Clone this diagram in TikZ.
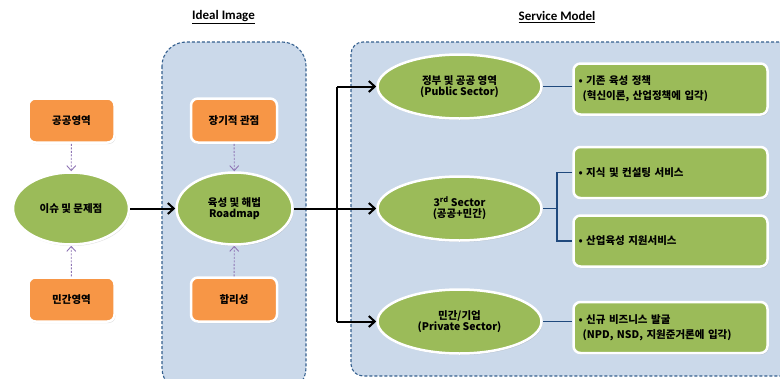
\documentclass[tikz,border=0pt]{standalone}
\usepackage{fontspec}
\setmainfont{Noto Sans CJK KR}
\newfontfamily\titlefont{Carlito}
\usetikzlibrary{arrows.meta,shadows,shapes.geometric}
\definecolor{orangefill}{HTML}{F79646}
\definecolor{greenfill}{HTML}{9BBB59}
\definecolor{panelfill}{HTML}{CBD9EA}
\definecolor{paneledge}{HTML}{35608F}
\definecolor{navyline}{HTML}{1F497D}
\definecolor{purpleline}{HTML}{8E74B4}
\begin{document}
\begin{tikzpicture}[x=1pt,y=-1pt,
  panel/.style={draw=paneledge,fill=panelfill,line width=1.1pt,dash pattern=on 3pt off 2pt,rounded corners=24pt},
  obox/.style={rectangle,rounded corners=7pt,fill=orangefill,draw=white,line width=2.5pt,
     minimum width=86pt,minimum height=44pt,font=\bfseries\fontsize{10.5}{12}\selectfont,
     drop shadow={opacity=0.25,shadow xshift=1pt,shadow yshift=-1.5pt}},
  gell/.style={ellipse,fill=greenfill,draw=white,line width=2.5pt,inner sep=0pt,
     minimum width=116pt,minimum height=72pt,align=center,font=\bfseries\fontsize{10.5}{13}\selectfont,
     drop shadow={opacity=0.25,shadow xshift=1pt,shadow yshift=-1.5pt}},
  rell/.style={gell,minimum width=164pt,minimum height=64pt},
  gbox/.style={rectangle,rounded corners=7pt,fill=greenfill,draw=white,line width=2.5pt,
     minimum width=194pt,minimum height=51pt,text width=184pt,inner xsep=5pt,align=left,
     font=\bfseries\fontsize{10.5}{15}\selectfont,
     drop shadow={opacity=0.25,shadow xshift=1pt,shadow yshift=-1.5pt}},
  title/.style={font=\titlefont\bfseries\fontsize{13}{15}\selectfont},
  blk/.style={line width=2pt,black},
  blkarrow/.style={blk,-{Straight Barb[length=6pt,width=11pt,line width=2pt]}},
  purp/.style={purpleline,line width=0.9pt,dash pattern=on 2pt off 1.5pt,-{Straight Barb[length=5pt,width=9pt,line width=0.9pt]}},
  navy/.style={navyline,line width=1.6pt}]
\useasboundingbox (0,0) rectangle (780,378);
\fill[white] (0,0) rectangle (780,378);
% panels
\draw[panel] (162,42) rectangle (306,392);
\draw[panel,rounded corners=12pt] (351,42) rectangle (800,376);
% titles
\node[title] (t1) at (223.5,17) {\underline{Ideal Image}};
\node[title] (t2) at (557,17) {\underline{Service Model}};
% left column
\node[obox] (pubarea) at (71.5,120.5) {공공영역};
\node[obox] (privarea) at (71.5,299.5) {민간영역};
\node[gell] (issue) at (71,208.5) {이슈 및 문제점};
% middle column
\node[obox] (longterm) at (234,120.5) {장기적 관점};
\node[obox] (rational) at (234,299.5) {합리성};
\node[gell] (road) at (234.5,208.5) {육성 및 해법\\[-2pt]Roadmap};
% right ellipses
\node[rell] (pub) at (459.5,86.5) {정부 및 공공 영역\\[-2pt](Public Sector)};
\node[rell] (third) at (459.5,208.5) {3\textsuperscript{rd} Sector\\[-2pt](공공+민간)};
\node[rell] (priv) at (459.5,321.5) {민간/기업\\[-2pt](Private Sector)};
% right boxes
\node[gbox] (b1) at (670.5,89) {• 기존 육성 정책\\\phantom{•}(혁신이론, 산업정책에 입각)};
\node[gbox] (b2) at (670.5,172.5) {• 지식 및 컨설팅 서비스};
\node[gbox] (b3) at (670.5,241) {• 산업육성 지원서비스};
\node[gbox] (b4) at (670.5,327.5) {• 신규 비즈니스 발굴\\\phantom{•}(NPD, NSD, 지원준거론에 입각)};
% purple dashed arrows
\draw[purp] (pubarea) -- (issue);
\draw[purp] (privarea) -- (issue);
\draw[purp] (longterm) -- (road);
\draw[purp] (rational) -- (road);
% black arrows
\draw[blkarrow] (issue) -- (road);
\coordinate (j) at (337,208.5);
\draw[blk] (road.east) -- (j);
\draw[blk] (j |- pub) -- (j |- priv);
\draw[blkarrow] (j |- pub) -- (pub);
\draw[blkarrow] (j) -- (third);
\draw[blkarrow] (j |- priv) -- (priv);
% navy connectors
\draw[navy] (pub.east) -- (pub.east -| b1.west);
\coordinate (k) at (557,208.5);
\draw[navy] (third.east) -- (k);
\draw[navy] (b2.west) -| (k) |- (b3.west);
\draw[navy] (priv.east) -- (priv.east -| b4.west);
\end{tikzpicture}
\end{document}
